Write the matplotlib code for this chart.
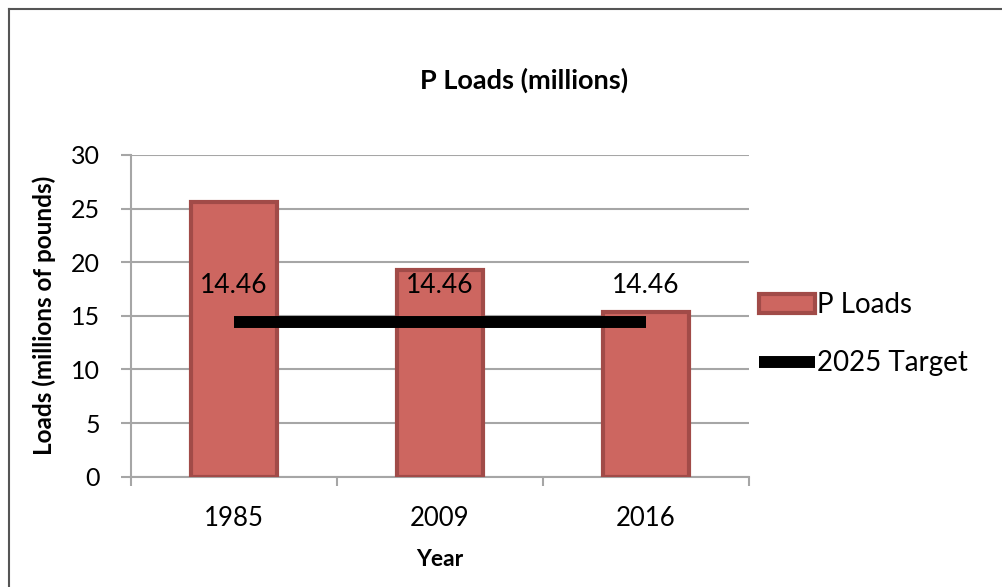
import matplotlib.pyplot as plt
from matplotlib.patches import Patch
from matplotlib.lines import Line2D

plt.rcParams['font.family'] = ['Lato', 'DejaVu Sans']

years = ["1985", "2009", "2016"]
p_loads = [25.6, 19.3, 15.4]
target = [14.46, 14.46, 14.46]
yticks = [0, 5, 10, 15, 20, 25, 30]

bar_face = "#CD6660"
bar_edge = "#A14B48"
grid_c = "#A6A6A6"

fig = plt.figure(figsize=(10.02, 5.87), dpi=100)
ax = fig.add_axes([131 / 1002, 1 - 476.7 / 587, 618 / 1002, 321.7 / 587])

x = list(range(len(years)))
ax.bar(x, p_loads, width=0.42, color=bar_face, edgecolor=bar_edge,
       linewidth=3, zorder=3)
ax.plot(x, target, color="black", linewidth=8.6, solid_capstyle="butt",
        zorder=4)
for xi, v in zip(x, target):
    ax.annotate(f"{v:.2f}", (xi, v), xytext=(0, 26), textcoords="offset points",
                ha="center", va="center", fontsize=19, zorder=5)

ax.set_xlim(-0.5, len(years) - 0.5)
ax.set_ylim(0, 30)
ax.set_yticks(yticks)
ax.set_yticklabels([str(t) for t in yticks])
ax.set_xticks(x)
ax.set_xticklabels(years)
ax.set_xticks([i - 0.5 for i in range(len(years) + 1)], minor=True)

ax.tick_params(axis="y", which="major", direction="out", length=7.2,
               width=1.5, color=grid_c, pad=15, labelsize=18)
ax.tick_params(axis="x", which="major", length=0, pad=21, labelsize=18.5)
ax.tick_params(axis="x", which="minor", direction="out", length=6.5,
               width=1.5, color=grid_c)

ax.grid(axis="y", color=grid_c, linewidth=1.5, zorder=0)
ax.set_axisbelow(True)
for s in ["top", "right"]:
    ax.spines[s].set_visible(False)
for s in ["left", "bottom"]:
    ax.spines[s].set_color(grid_c)
    ax.spines[s].set_linewidth(1.5)

ax.set_xlabel("Year", fontsize=16.5, fontweight="bold", labelpad=13)
ax.set_ylabel("Loads (millions of pounds)", fontsize=17.5, fontweight="bold")
ax.yaxis.set_label_coords(-0.121, 0.5)

fig.text(0.523, 1 - 80 / 587, "P Loads (millions)", ha="center",
         va="center", fontsize=19.5, fontweight="bold")

handles = [Patch(facecolor=bar_face, edgecolor=bar_edge, linewidth=3),
           Line2D([0], [0], color="black", linewidth=8.6, solid_capstyle="butt")]
fig.legend(handles, ["P Loads", "2025 Target"], loc="upper left",
           bbox_to_anchor=(759 / 1002, 1 - 292 / 587), frameon=False,
           fontsize=20, handlelength=2.0, handletextpad=0.1,
           labelspacing=1.17, borderaxespad=0, borderpad=0)

# chart frame (top and left edges)
fig.add_artist(Line2D([9 / 1002, 1.0], [1 - 9 / 587, 1 - 9 / 587],
                      transform=fig.transFigure, color="#555555", linewidth=1.5))
fig.add_artist(Line2D([9 / 1002, 9 / 1002], [0, 1 - 9 / 587],
                      transform=fig.transFigure, color="#555555", linewidth=1.5))

fig.savefig("out.png", dpi=100)
